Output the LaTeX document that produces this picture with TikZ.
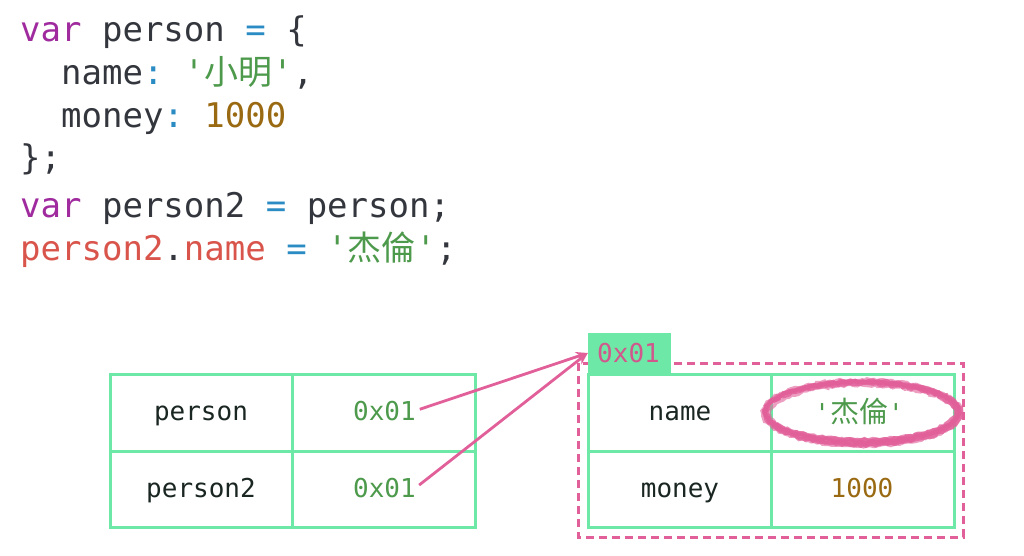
\documentclass[tikz,border=0pt]{standalone}
\usepackage{fontspec}
\setmonofont{DejaVu Sans Mono}
\newfontfamily\cjk{Noto Sans CJK SC}
\usetikzlibrary{arrows.meta,decorations.pathmorphing,calc}
\definecolor{kw}{HTML}{A02B9E}
\definecolor{txt}{HTML}{33363D}
\definecolor{op}{HTML}{2B8CC4}
\definecolor{str}{HTML}{4E9A4C}
\definecolor{num}{HTML}{9A6A12}
\definecolor{red}{HTML}{D9554C}
\definecolor{grn}{HTML}{6EE8A6}
\definecolor{pnk}{HTML}{E2609A}
\definecolor{addr}{HTML}{D0588C}
\definecolor{cell}{HTML}{1A2622}
\tikzset{
  codeline/.style={anchor=base west,inner sep=0pt,font=\ttfamily\fontsize{34}{34}\selectfont,text=txt},
  celltext/.style={anchor=base,inner sep=0pt,font=\ttfamily\fontsize{26}{26}\selectfont,text=cell},
  grid/.style={draw=grn,line width=3pt},
  ptr/.style={draw=pnk,line width=2.8pt,-{Stealth[length=12pt,width=10pt]}},
}
\begin{document}
\begin{tikzpicture}[x=1pt,y=-1pt]
\useasboundingbox[fill=white] (0,0) rectangle (1024,556);
% code
\node[codeline] (l1) at (20,42) {\textcolor{kw}{var} person \textcolor{op}{=} \{};
\node[codeline] (l2) at (20,85) {\ \ name\textcolor{op}{:} \textcolor{str}{'{\cjk 小明}'},};
\node[codeline] (l3) at (20,128) {\ \ money\textcolor{op}{:} \textcolor{num}{1000}};
\node[codeline] (l4) at (20,170) {\};};
\node[codeline] (l5) at (20,217) {\textcolor{kw}{var} person2 \textcolor{op}{=} person;};
\node[codeline] (l6) at (20,260) {\textcolor{red}{person2}.\textcolor{red}{name} \textcolor{op}{=} \textcolor{str}{'{\cjk 杰倫}'};};
% left table
\draw[grid] (110,374) rectangle (475,527);
\draw[grid] (292,374) -- (292,527);
\draw[grid] (110,451) -- (475,451);
\node[celltext] (k1) at (201,420) {person};
\node[celltext,anchor=base east,text=str] (v1) at (416,420) {0x01};
\node[celltext] (k2) at (201,497) {person2};
\node[celltext,anchor=base east,text=str] (v2) at (416,497) {0x01};
% heap object
\draw[pnk,line width=3pt,dash pattern=on 8pt off 5pt] (578,363) rectangle (963,537);
\node[fill=grn,minimum width=83pt,minimum height=40pt,inner sep=0pt] (addr) at (629.5,353) {};
\node[celltext,text=addr,anchor=base west] (addrtxt) at (597,362) {0x01};
\draw[grid] (588,374) rectangle (954,527);
\draw[grid] (771,374) -- (771,527);
\draw[grid] (588,451) -- (954,451);
\node[celltext] (k3) at (680,420) {name};
\node[celltext,text=str] (v3) at (859,422) {'{\cjk\fontsize{29}{29}\selectfont 杰倫}'};
\node[celltext] (k4) at (680,497) {money};
\node[celltext,text=num] (v4) at (862,497) {1000};
\coordinate (ring) at (862,412);
% pointers
\draw[ptr,shorten <=4pt] (v1.east) -- (addr.west);
\draw[ptr,shorten <=4pt] (v2.east) -- (addr.west);
% crayon ring
\foreach \a/\b/\dx/\dy/\o in {96/30/0/0/0.95, 98/32/1/1/0.8, 94/28/-1/0/0.8, 97/29/0/-1/0.7, 99/33/0/1/0.6, 93/29/1/2/0.6, 96/31/-1/1/0.7}{
  \draw[pnk,line width=3.6pt,opacity=\o,decorate,decoration={random steps,segment length=3pt,amplitude=1.2pt}]
    ($(ring)+(\dx,\dy)$) ellipse [x radius=\a, y radius=\b];
}
\end{tikzpicture}
\end{document}
